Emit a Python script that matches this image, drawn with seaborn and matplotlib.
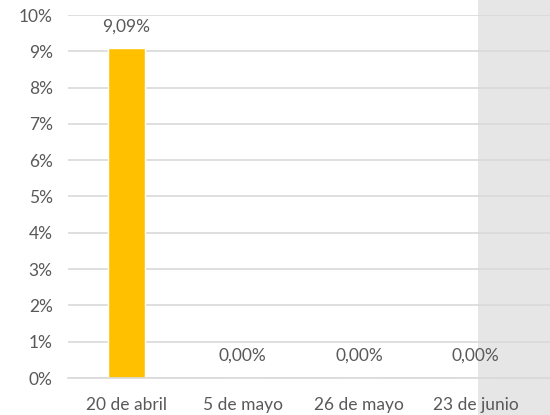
import matplotlib
matplotlib.use("Agg")
import matplotlib.pyplot as plt
import seaborn as sns
import pandas as pd
from matplotlib.patches import Rectangle

categories = ["20 de abril", "5 de mayo", "26 de mayo", "23 de junio"]
values = [9.09, 0.0, 0.0, 0.0]
ytick_values = list(range(0, 11))
ytick_labels = [f"{v}%" for v in ytick_values]

sns.set_theme(style="white")
plt.rcParams["font.family"] = ["Lato", "DejaVu Sans"]

TXT = "#595959"
GRID = "#d9d9d9"

df = pd.DataFrame({"cat": categories, "val": values})

fig = plt.figure(figsize=(5.5, 4.15), dpi=100)
fig.patch.set_facecolor("white")
# gray background panel on the right side
fig.patches.append(Rectangle((478 / 550, 0), 1 - 478 / 550, 1, transform=fig.transFigure,
                             facecolor="#e6e6e6", edgecolor="none", zorder=-1))

ax = fig.add_axes([68 / 550, 1 - 378 / 415, 1 - 68 / 550, (378 - 15) / 415])
ax.set_facecolor("none")

sns.barplot(data=df, x="cat", y="val", color="#FFC000", width=0.32, saturation=1, ax=ax, zorder=3)

ax.set_xlim(-0.5, 3.5 + 16 / 116)
ax.set_ylim(0, 10)
ax.set_yticks(ytick_values)
ax.set_yticklabels(ytick_labels)
ax.yaxis.grid(True, color=GRID, linewidth=1.2, zorder=0)
ax.set_axisbelow(True)
for s in ["top", "right", "left"]:
    ax.spines[s].set_visible(False)
ax.spines["bottom"].set_color(GRID)
ax.spines["bottom"].set_linewidth(1.2)
ax.spines["bottom"].set_zorder(4)

ax.tick_params(axis="y", length=0, pad=11, labelsize=12.5, labelcolor=TXT)
ax.tick_params(axis="x", which="major", length=0, pad=14, labelsize=12.5, labelcolor=TXT)
ax.set_xticks([-0.5, 0.5, 1.5, 2.5], minor=True)
ax.tick_params(axis="x", which="minor", length=6, width=1.2, color=GRID, direction="out")
ax.set_xlabel("")
ax.set_ylabel("")

for i, v in enumerate(values):
    ax.annotate(f"{v:.2f}%".replace(".", ","), (i, v), xytext=(0, 10), textcoords="offset points",
                ha="center", va="bottom", fontsize=12.5, color=TXT, zorder=5)

fig.savefig("out.png", dpi=100)
